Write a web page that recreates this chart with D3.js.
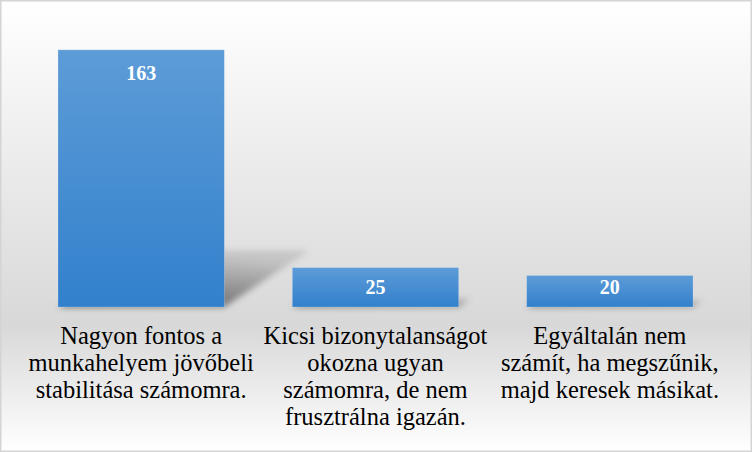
<!DOCTYPE html>
<html>
<head>
<meta charset="utf-8">
<script src="https://cdn.jsdelivr.net/npm/d3@7"></script>
<style>
  html, body { margin: 0; padding: 0; background: #fff; }
  svg { display: block; }
</style>
</head>
<body>
<script>
const categories = [
  ["Nagyon fontos a", "munkahelyem jövőbeli", "stabilitása számomra."],
  ["Kicsi bizonytalanságot", "okozna ugyan", "számomra, de nem", "frusztrálna igazán."],
  ["Egyáltalán nem", "számít, ha megszűnik,", "majd keresek másikat."]
];
const values = [163, 25, 20];
const yMax = 180;

const W = 752, H = 452;
const baseY = 307, topY = 23;
const FONT = '"Liberation Serif", "Times New Roman", Tinos';

const svg = d3.select("body").append("svg").attr("width", W).attr("height", H);
const defs = svg.append("defs");

const bg = defs.append("linearGradient").attr("id", "bg").attr("x1", 0).attr("y1", 0).attr("x2", 0).attr("y2", 1);
bg.append("stop").attr("offset", "0").attr("stop-color", "#ffffff");
bg.append("stop").attr("offset", "0.72").attr("stop-color", "#d8d8d8");
bg.append("stop").attr("offset", "1").attr("stop-color", "#ffffff");

const barG = defs.append("linearGradient").attr("id", "barg").attr("x1", 0).attr("y1", 0).attr("x2", 0).attr("y2", 1);
barG.append("stop").attr("offset", "0").attr("stop-color", "#5d9cd7");
barG.append("stop").attr("offset", "1").attr("stop-color", "#3280cc");

const shG = defs.append("linearGradient").attr("id", "shg").attr("x1", 0).attr("y1", 1).attr("x2", 0.35).attr("y2", 0);
shG.append("stop").attr("offset", "0").attr("stop-color", "#000").attr("stop-opacity", 0.55);
shG.append("stop").attr("offset", "1").attr("stop-color", "#000").attr("stop-opacity", 0.12);

const blur = defs.append("filter").attr("id", "blur").attr("x", "-20%").attr("y", "-20%").attr("width", "140%").attr("height", "140%");
blur.append("feGaussianBlur").attr("stdDeviation", 3);

svg.append("rect").attr("x", 0).attr("y", 0).attr("width", W).attr("height", H).attr("fill", "url(#bg)");
svg.append("rect").attr("x", 0.75).attr("y", 0.75).attr("width", W - 1.5).attr("height", H - 1.5)
  .attr("fill", "none").attr("stroke", "#d4d4d4").attr("stroke-width", 1.5);

const x = d3.scaleBand().domain(d3.range(values.length)).range([24, 727]).paddingInner(0.29).paddingOuter(0.145);
const y = d3.scaleLinear().domain([0, yMax]).range([baseY, topY]);

// perspective shadows
const shadowRatio = 0.22, skew = 1.5;
svg.append("g").attr("filter", "url(#blur)")
  .selectAll("path").data(values).join("path")
  .attr("d", (d, i) => {
    const x0 = x(i), x1 = x(i) + x.bandwidth();
    const h = (y(0) - y(d)) * shadowRatio;
    const off = h * skew;
    return `M${x0},${y(0)}L${x1},${y(0)}L${x1 + off},${y(0) - h}L${x0 + off},${y(0) - h}Z`;
  })
  .attr("fill", "url(#shg)");

// bars
svg.append("g").selectAll("rect").data(values).join("rect")
  .attr("x", (d, i) => x(i))
  .attr("y", d => y(d))
  .attr("width", x.bandwidth())
  .attr("height", d => y(0) - y(d))
  .attr("fill", "url(#barg)")
  .attr("stroke", "rgba(255,255,255,0.25)")
  .attr("stroke-width", 0.8);

// value labels
svg.append("g").selectAll("text").data(values).join("text")
  .attr("x", (d, i) => x(i) + x.bandwidth() / 2)
  .attr("y", d => Math.min(y(d) + 30, y(0) - 13.5))
  .attr("text-anchor", "middle")
  .style("font-family", FONT)
  .style("font-weight", "bold")
  .style("font-size", "20px")
  .attr("fill", "#ffffff")
  .text(d => d);

// category labels (one text element per line)
const lineData = categories.flatMap((lines, i) => lines.map((l, j) => ({ i, j, l })));
svg.append("g").selectAll("text").data(lineData).join("text")
  .attr("x", d => x(d.i) + x.bandwidth() / 2)
  .attr("y", d => 344 + d.j * 27)
  .attr("text-anchor", "middle")
  .style("font-family", FONT)
  .style("font-size", "24.5px")
  .attr("fill", "#000")
  .text(d => d.l);
</script>
</body>
</html>
